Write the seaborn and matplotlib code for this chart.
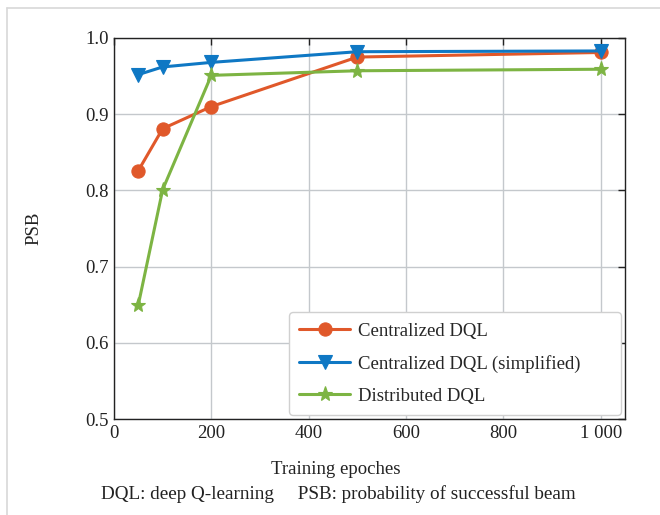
import numpy as np
import pandas as pd
import matplotlib
matplotlib.use("Agg")
import matplotlib.pyplot as plt
import seaborn as sns
from matplotlib.lines import Line2D

epochs = [50, 100, 200, 500, 1000]
centralized = [0.826, 0.881, 0.910, 0.975, 0.981]
simplified = [0.952, 0.962, 0.968, 0.982, 0.983]
distributed = [0.650, 0.801, 0.951, 0.957, 0.959]
series_names = ["Centralized DQL", "Centralized DQL (simplified)", "Distributed DQL"]
xticks = [0, 200, 400, 600, 800, 1000]
xtick_labels = ["0", "200", "400", "600", "800", "1 000"]
yticks = [0.5, 0.6, 0.7, 0.8, 0.9, 1.0]

sns.set_theme(style="white")
plt.rcParams['font.family'] = ['Liberation Serif', 'DejaVu Serif']

FS = 13.5

df = pd.DataFrame({
    "epoch": epochs * 3,
    "psb": centralized + simplified + distributed,
    "method": sum([[n] * len(epochs) for n in series_names], []),
})

colors = {"Centralized DQL": "#E0582A", "Centralized DQL (simplified)": "#0F78C4",
          "Distributed DQL": "#7DB443"}
markers = {"Centralized DQL": "o", "Centralized DQL (simplified)": "v",
           "Distributed DQL": "*"}
sizes = {"Centralized DQL": 9.5, "Centralized DQL (simplified)": 9.5, "Distributed DQL": 11}

fig = plt.figure(figsize=(6.6, 5.15), dpi=100)
ax = fig.add_axes([114/660, 1 - 419/515, (625-114)/660, (419-38)/515])

for name in series_names:
    sub = df[df.method == name]
    sns.lineplot(data=sub, x="epoch", y="psb", ax=ax, color=colors[name],
                 marker=markers[name], markersize=sizes[name], markeredgewidth=0.8,
                 markeredgecolor=colors[name], linewidth=2.2, label=name)

ax.set_xlim(0, 1050)
ax.set_ylim(0.5, 1.0)
ax.set_xticks(xticks)
ax.set_xticklabels(xtick_labels)
ax.set_yticks(yticks)
ax.set_yticklabels([f"{v:.1f}" for v in yticks])
ax.grid(True, color="#C4C8CC", linewidth=1.0)
ax.set_axisbelow(True)
for s in ax.spines.values():
    s.set_color("#222222")
    s.set_linewidth(1.0)
ax.tick_params(direction="in", top=True, right=True, length=5, width=1,
               labelsize=FS, colors="#222222", pad=4)
ax.set_xlabel("")
ax.set_ylabel("PSB", fontsize=FS, color="#222222")
ax.yaxis.set_label_coords((42 - 114) / 511, 0.5)

aw, ah = 511, 381
leg = ax.legend(loc="lower left", mode="expand", fontsize=FS, frameon=True,
                borderpad=0.55, labelspacing=0.8, handlelength=2.7, handletextpad=0.45,
                borderaxespad=0,
                bbox_to_anchor=((289 - 114) / aw, (419 - 415) / ah,
                                (621 - 289) / aw, (415 - 311) / ah))
leg.get_frame().set_edgecolor("#D0D0D0")
leg.get_frame().set_facecolor("white")
leg.get_frame().set_alpha(1)

fig.text(336/660, 1 - 470/515, "Training epoches", ha="center", va="center",
         fontsize=FS, color="#222222")
fig.text(338/660, 1 - 494/515,
         "DQL: deep Q-learning     PSB: probability of successful beam",
         ha="center", va="center", fontsize=13.8, color="#222222")

fig.add_artist(Line2D([7/660, 7/660], [0, 1 - 8/515], color="#D8D8D8", linewidth=1.2))
fig.add_artist(Line2D([7/660, 1], [1 - 8/515, 1 - 8/515], color="#D8D8D8", linewidth=1.2))

fig.savefig("out.png", dpi=100)
